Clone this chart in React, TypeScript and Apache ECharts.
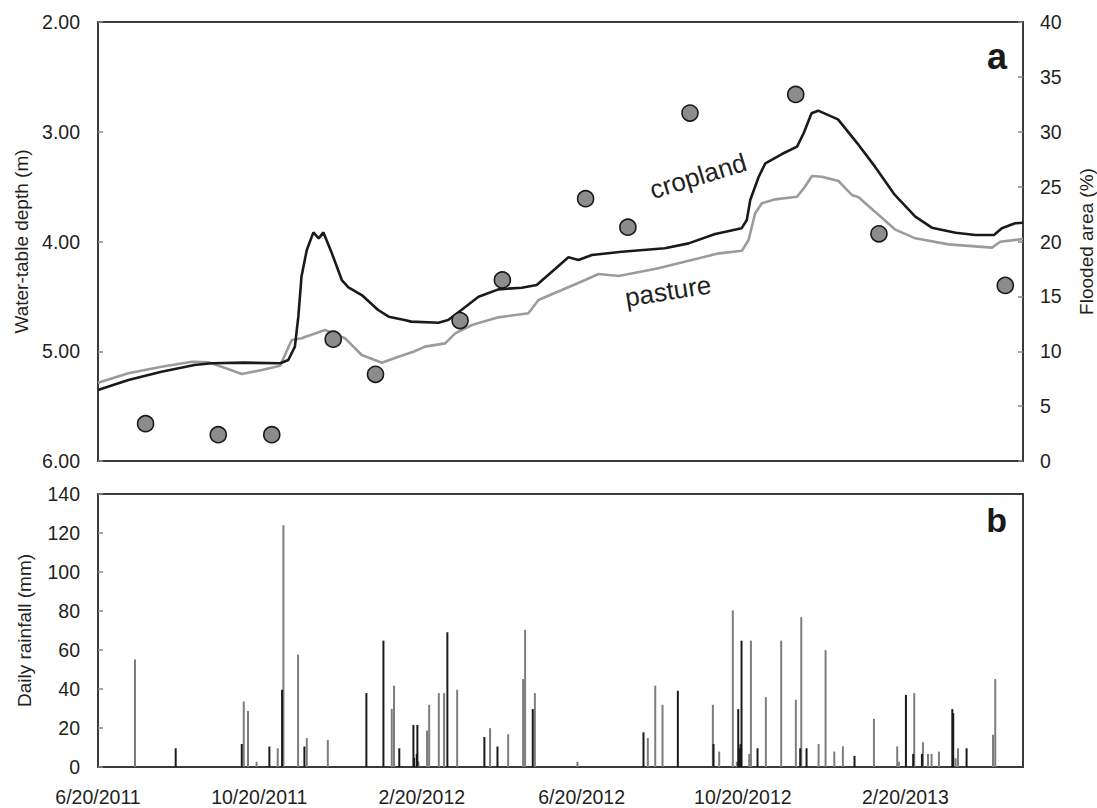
import React, { useEffect, useRef } from "react";
import * as echarts from "echarts";

// x values are days since 6/20/2011
const xTickDays = [0, 122, 245, 366, 488, 611];
const xTickLabels = ["6/20/2011", "10/20/2011", "2/20/2012", "6/20/2012", "10/20/2012", "2/20/2013"];

const depthTicks = [2, 3, 4, 5, 6];

const croplandDays = [0, 23, 48, 73, 86, 111, 138, 144, 149, 151.6, 154, 158, 163, 167, 170.6, 177, 184.5, 189.5, 199.6, 212, 220, 232, 237, 257.6, 265, 275, 288, 303, 320.7, 332, 343.5, 356, 363.6, 373.7, 396.4, 429, 447, 467, 475, 487, 491, 493.6, 500, 505, 517.6, 529, 534, 540, 545, 560, 575.6, 588, 603, 618.5, 631, 649, 664, 678, 684, 694, 700];
const croplandDepth = [5.353, 5.262, 5.186, 5.125, 5.11, 5.104, 5.11, 5.08, 4.958, 4.685, 4.32, 4.077, 3.917, 3.971, 3.917, 4.108, 4.351, 4.418, 4.488, 4.624, 4.685, 4.715, 4.73, 4.74, 4.715, 4.624, 4.503, 4.436, 4.421, 4.396, 4.275, 4.144, 4.169, 4.123, 4.093, 4.062, 4.017, 3.932, 3.911, 3.88, 3.804, 3.622, 3.41, 3.288, 3.203, 3.136, 3.014, 2.832, 2.808, 2.887, 3.12, 3.318, 3.576, 3.774, 3.874, 3.92, 3.941, 3.941, 3.88, 3.834, 3.829];

const pastureDays = [0, 23, 48, 71, 83.5, 93.6, 108.8, 124, 137.8, 146.6, 154, 171.8, 187, 199.6, 214.8, 227.3, 238.7, 247.5, 262.7, 270.3, 283, 303, 325.7, 333.3, 351, 368.7, 378.7, 394, 424, 447, 470, 487.3, 492.3, 497.3, 502.4, 512.5, 529, 535, 540.3, 547.8, 560.4, 570.5, 575.6, 588, 603, 618.5, 643.7, 676.5, 682.8, 700];
const pastureDepth = [5.287, 5.201, 5.141, 5.095, 5.1, 5.141, 5.207, 5.171, 5.132, 4.897, 4.882, 4.806, 4.882, 5.034, 5.104, 5.05, 5.004, 4.958, 4.928, 4.837, 4.761, 4.691, 4.654, 4.533, 4.442, 4.351, 4.296, 4.315, 4.244, 4.175, 4.108, 4.084, 3.986, 3.743, 3.652, 3.616, 3.592, 3.501, 3.403, 3.41, 3.449, 3.576, 3.597, 3.728, 3.889, 3.971, 4.026, 4.056, 4.002, 3.977];

const floodDays = [36, 91, 131.5, 178, 210, 274, 306, 369, 401, 448, 528, 591, 686.6];
const floodPct = [3.4, 2.4, 2.4, 11.1, 7.9, 12.8, 16.5, 23.9, 21.3, 31.7, 33.4, 20.7, 16.0];

const rainGrayDays = [28, 110.3, 113.5, 120, 136, 140.3, 151.4, 158, 173.9, 222.3, 224, 242.5, 249, 250.6, 257.9, 261.9, 271.8, 296.7, 310.4, 321.7, 323.2, 330.6, 362.8, 416.1, 421.7, 427.2, 465.3, 470.1, 480.4, 483.4, 492.8, 494.1, 505.4, 517, 528.1, 532.2, 545.3, 550.6, 557.2, 563.7, 587.2, 604.8, 606.1, 617.7, 624.3, 628.1, 630.8, 636.4, 649, 650.8, 677.3, 679];
const rainGrayMm = [55.1, 33.6, 28.8, 2.7, 9.6, 124, 57.6, 14.8, 13.9, 29.8, 41.7, 2.7, 18.7, 31.9, 37.9, 37.9, 39.6, 19.9, 16.8, 45.1, 70.3, 37.9, 2.7, 14.9, 41.7, 31.9, 31.9, 7.9, 80.3, 2.7, 6.7, 64.8, 35.8, 64.8, 34.5, 76.8, 11.8, 59.9, 7.9, 10.6, 24.7, 10.6, 2.7, 37.9, 12.7, 6.7, 6.7, 7.9, 4.5, 9.6, 16.6, 45.1];

const rainBlackDays = [58.8, 108.8, 129.7, 139.3, 156.2, 203.1, 216, 228, 238.7, 239.2, 241.2, 241.7, 264.4, 292.4, 302.3, 329, 412.8, 438.8, 465.8, 484.5, 485.2, 486.2, 487, 499.1, 531.4, 536.2, 572.5, 611.4, 616.9, 623.5, 646.5, 647.2, 657.3];
const rainBlackMm = [9.6, 11.8, 10.5, 39.6, 10.5, 37.9, 64.8, 9.6, 21.6, 4.8, 6.7, 21.6, 69.1, 15.4, 10.5, 29.7, 17.8, 39.1, 11.8, 29.7, 9.6, 11.7, 64.8, 9.6, 9.6, 9.6, 5.7, 37, 6.7, 6.7, 29.7, 27.6, 9.6];

const zip = (a: number[], b: number[]) => a.map((v, i) => [v, b[i]]);

const FONT = "'Liberation Sans', Arial, Helvetica, sans-serif";
const TXT = "#231f20";
const FRAME = "#3a3a3a";

export default function App() {
  const ref = useRef<HTMLDivElement>(null);
  useEffect(() => {
    if (!ref.current) return;
    const chart = echarts.init(ref.current, undefined, { renderer: "svg" });
    const tickLabelStyle = { fontSize: 19.5, color: TXT, fontFamily: FONT };
    const nameStyle = { fontSize: 19, color: TXT, fontFamily: FONT };
    const innerTick = { show: true, inside: true, length: 5, lineStyle: { color: "#8a8a8a", width: 1.5 } };
    const option: any = {
      animation: false,
      backgroundColor: "#ffffff",
      textStyle: { fontFamily: FONT },
      grid: [
        { left: 98, top: 22, width: 925, height: 439, show: true, borderColor: FRAME, borderWidth: 2, containLabel: false, outerBoundsMode: "none" },
        { left: 98, top: 494, width: 925, height: 273, show: true, borderColor: FRAME, borderWidth: 2, containLabel: false, outerBoundsMode: "none" },
      ],
      xAxis: [
        {
          type: "value", gridIndex: 0, min: 0, max: 700,
          axisLine: { show: false }, axisTick: { show: false }, axisLabel: { show: false }, splitLine: { show: false },
        },
        {
          type: "value", gridIndex: 1, min: 0, max: 700,
          axisLine: { show: false }, axisTick: { show: false }, splitLine: { show: false },
          axisLabel: {
            ...tickLabelStyle, margin: 20, customValues: xTickDays,
            formatter: (v: number) => {
              const i = xTickDays.indexOf(v);
              return i >= 0 ? xTickLabels[i] : "";
            },
          },
        },
      ],
      yAxis: [
        {
          type: "value", gridIndex: 0, min: 2, max: 6, interval: 1, inverse: true, position: "left",
          name: "Water-table depth (m)", nameLocation: "middle", nameGap: 64, nameRotate: 90, nameTextStyle: nameStyle,
          axisLine: { show: false }, axisTick: innerTick, splitLine: { show: false },
          axisLabel: { ...tickLabelStyle, margin: 18, formatter: (v: number) => (depthTicks.includes(v) ? v.toFixed(2) : "") },
        },
        {
          type: "value", gridIndex: 0, min: 0, max: 40, interval: 5, position: "right",
          name: "Flooded area (%)", nameLocation: "middle", nameGap: 54, nameRotate: 90, nameTextStyle: nameStyle,
          axisLine: { show: false }, axisTick: innerTick, splitLine: { show: false },
          axisLabel: { ...tickLabelStyle, margin: 17 },
        },
        {
          type: "value", gridIndex: 1, min: 0, max: 140, interval: 20, position: "left",
          name: "Daily rainfall (mm)", nameLocation: "middle", nameGap: 64, nameRotate: 90, nameTextStyle: nameStyle,
          axisLine: { show: false }, axisTick: innerTick, splitLine: { show: false },
          axisLabel: { ...tickLabelStyle, margin: 18 },
        },
      ],
      series: [
        {
          name: "pasture", type: "line", xAxisIndex: 0, yAxisIndex: 0, data: zip(pastureDays, pastureDepth),
          symbol: "none", lineStyle: { color: "#9b9b9b", width: 2.6 }, z: 2,
        },
        {
          name: "cropland", type: "line", xAxisIndex: 0, yAxisIndex: 0, data: zip(croplandDays, croplandDepth),
          symbol: "none", lineStyle: { color: "#1a1a1a", width: 2.6 }, z: 3,
        },
        {
          name: "flooded", type: "scatter", xAxisIndex: 0, yAxisIndex: 1, data: zip(floodDays, floodPct),
          symbol: "circle", symbolSize: 16,
          itemStyle: { color: "#8c8c8e", borderColor: "#1a1a1a", borderWidth: 1.6, opacity: 1 }, z: 4,
        },
        {
          name: "rainGray", type: "bar", xAxisIndex: 1, yAxisIndex: 2, data: zip(rainGrayDays, rainGrayMm),
          barWidth: 2, barGap: "-100%", itemStyle: { color: "#7d7d7d" },
        },
        {
          name: "rainBlack", type: "bar", xAxisIndex: 1, yAxisIndex: 2, data: zip(rainBlackDays, rainBlackMm),
          barWidth: 2, barGap: "-100%", itemStyle: { color: "#1a1a1a" },
        },
      ],
      graphic: [
        {
          type: "text", x: 1007, y: 56,
          style: { text: "a", font: `bold 36px ${FONT}`, fill: "#1a1a1a", align: "right", verticalAlign: "middle" },
        },
        {
          type: "text", x: 1007, y: 520,
          style: { text: "b", font: `bold 34px ${FONT}`, fill: "#1a1a1a", align: "right", verticalAlign: "middle" },
        },
        {
          type: "text", x: 698, y: 176, rotation: (17 * Math.PI) / 180,
          style: { text: "cropland", font: `26px ${FONT}`, fill: TXT, align: "center", verticalAlign: "middle" },
        },
        {
          type: "text", x: 668, y: 291, rotation: (9 * Math.PI) / 180,
          style: { text: "pasture", font: `26px ${FONT}`, fill: TXT, align: "center", verticalAlign: "middle" },
        },
      ],
    };
    chart.setOption(option);
    return () => chart.dispose();
  }, []);
  return <div ref={ref} style={{ width: 1097, height: 808, position: "absolute", left: 0, top: 0 }} />;
}
